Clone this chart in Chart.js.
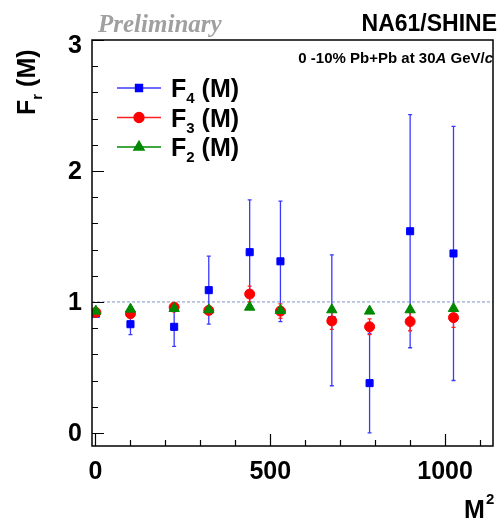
<!DOCTYPE html>
<html>
<head>
<meta charset="utf-8">
<script src="https://cdn.jsdelivr.net/npm/chart.js@4.4.0/dist/chart.umd.min.js"></script>
<style>
  html, body { margin: 0; padding: 0; background: #fff; }
  #wrap { width: 500px; height: 521px; }
</style>
</head>
<body>
<div id="wrap"><canvas id="chart" width="500" height="521"></canvas></div>
<script>
// data
const m2 = [1, 100, 225, 324, 441, 529, 676, 784, 900, 1024];
const f4 = [0.91, 0.83, 0.81, 1.09, 1.38, 1.31, 0.86, 0.38, 1.54, 1.37];
const f4Err = [0.02, 0.08, 0.15, 0.26, 0.40, 0.46, 0.50, 0.38, 0.89, 0.97];
const f3 = [0.92, 0.91, 0.96, 0.935, 1.06, 0.93, 0.855, 0.81, 0.85, 0.88];
const f3Err = [0.01, 0.02, 0.02, 0.03, 0.06, 0.055, 0.065, 0.06, 0.07, 0.075];
const f2 = [0.93, 0.945, 0.95, 0.94, 0.96, 0.935, 0.94, 0.93, 0.94, 0.95];
const f2Err = [0.005, 0.005, 0.005, 0.005, 0.005, 0.005, 0.005, 0.005, 0.005, 0.005];

const yMajor = [0, 1, 2, 3];
const xMajor = [0, 500, 1000];
const legendSub = ['4', '3', '2'];

const FONT = "'Liberation Sans', Arial, sans-serif";

function pts(ys) {
    return m2.map((x, i) => ({ x: x, y: ys[i] }));
}

// errors per dataset index
const errs = [f4Err, f3Err, f2Err];

// draw error bars under each dataset
const rootStyle = {
    id: 'rootStyle',
    beforeDatasetsDraw(chart) {
        const ctx = chart.ctx;
        const a = chart.chartArea;
        const y1 = chart.scales.y.getPixelForValue(1);
        ctx.save();
        ctx.strokeStyle = '#7f96c8';
        ctx.lineWidth = 1;
        ctx.setLineDash([3, 2]);
        ctx.beginPath();
        ctx.moveTo(a.left, y1);
        ctx.lineTo(a.right, y1);
        ctx.stroke();
        ctx.restore();
    },
    beforeDatasetDraw(chart, args) {
        const ctx = chart.ctx;
        const ds = chart.data.datasets[args.index];
        const e = errs[args.index];
        const xs = chart.scales.x, ys = chart.scales.y;
        ctx.save();
        ctx.strokeStyle = ds.errColor;
        ctx.lineWidth = 1.3;
        ds.data.forEach((p, i) => {
            const px = xs.getPixelForValue(p.x);
            const top = ys.getPixelForValue(p.y + e[i]);
            const bot = ys.getPixelForValue(p.y - e[i]);
            ctx.beginPath();
            ctx.moveTo(px, top); ctx.lineTo(px, bot);
            ctx.moveTo(px - 2, top); ctx.lineTo(px + 2, top);
            ctx.moveTo(px - 2, bot); ctx.lineTo(px + 2, bot);
            ctx.stroke();
        });
        ctx.restore();
    },
    afterDraw(chart) {
        const ctx = chart.ctx;
        const a = chart.chartArea;
        const xs = chart.scales.x, ys = chart.scales.y;
        ctx.save();

        // frame
        ctx.strokeStyle = '#000';
        ctx.lineWidth = 1.5;
        ctx.strokeRect(a.left, a.top, a.right - a.left, a.bottom - a.top);

        // ticks inside the frame
        ctx.lineWidth = 1.2;
        ctx.beginPath();
        for (let v = 0; v <= 3.001; v += 0.2) {
            const py = Math.round(ys.getPixelForValue(v)) + 0.5;
            const major = Math.abs(v - Math.round(v)) < 0.01;
            ctx.moveTo(a.left, py);
            ctx.lineTo(a.left + (major ? 12 : 6), py);
        }
        for (let v = 0; v <= 1100; v += 100) {
            const px = Math.round(xs.getPixelForValue(v)) + 0.5;
            const major = v % 500 === 0;
            ctx.moveTo(px, a.bottom);
            ctx.lineTo(px, a.bottom - (major ? 12 : 6));
        }
        ctx.stroke();

        // tick labels
        ctx.fillStyle = '#000';
        ctx.font = 'bold 25px ' + FONT;
        ctx.textAlign = 'right';
        ctx.textBaseline = 'middle';
        yMajor.forEach(v => {
            let py = ys.getPixelForValue(v);
            if (py < a.top + 5) py = a.top + 5;
            ctx.fillText(String(v), 82, py + 1);
        });
        ctx.textAlign = 'center';
        xMajor.forEach(v => {
            ctx.fillText(String(v), xs.getPixelForValue(v), 472);
        });

        // x title M^2
        ctx.textAlign = 'left';
        ctx.textBaseline = 'alphabetic';
        ctx.font = 'bold 25px ' + FONT;
        ctx.fillText('M', 464, 518);
        ctx.font = 'bold 15px ' + FONT;
        ctx.fillText('2', 486, 504);

        // y title F_r (M)
        ctx.save();
        ctx.translate(35, 115);
        ctx.rotate(-Math.PI / 2);
        ctx.font = 'bold 25px ' + FONT;
        ctx.fillText('F', 0, 0);
        let w = ctx.measureText('F').width;
        ctx.font = 'bold 15px ' + FONT;
        ctx.fillText('r', w, 7);
        w += ctx.measureText('r').width;
        ctx.font = 'bold 25px ' + FONT;
        ctx.fillText(' (M)', w, 0);
        ctx.restore();

        // Preliminary
        ctx.fillStyle = '#a0a0a0';
        ctx.font = 'italic bold 25px "Liberation Serif", "Times New Roman", serif';
        ctx.fillText('Preliminary', 98, 32);

        // NA61/SHINE
        ctx.fillStyle = '#000';
        ctx.textAlign = 'right';
        ctx.font = 'bold 23px ' + FONT;
        ctx.fillText('NA61/SHINE', 497, 31);

        // system label with italic A and c
        ctx.textAlign = 'left';
        const parts = [['0 -10% Pb+Pb at 30', false], ['A', true], [' GeV/', false], ['c', true]];
        let total = 0;
        parts.forEach(p => {
            ctx.font = (p[1] ? 'italic ' : '') + 'bold 15px ' + FONT;
            total += ctx.measureText(p[0]).width;
        });
        let x = 493 - total;
        parts.forEach(p => {
            ctx.font = (p[1] ? 'italic ' : '') + 'bold 15px ' + FONT;
            ctx.fillText(p[0], x, 63);
            x += ctx.measureText(p[0]).width;
        });

        // legend
        chart.data.datasets.forEach((ds, i) => {
            const ly = 88 + i * 29.5;
            ctx.strokeStyle = ds.errColor;
            ctx.lineWidth = 1.3;
            ctx.beginPath();
            ctx.moveTo(117, ly);
            ctx.lineTo(161, ly);
            ctx.stroke();
            ctx.fillStyle = ds.backgroundColor;
            ctx.strokeStyle = ds.borderColor;
            Chart.helpers.drawPoint(ctx, {
                pointStyle: ds.pointStyle, radius: ds.pointRadius,
                rotation: 0, borderWidth: 1
            }, 139, ly);
            ctx.fillStyle = '#000';
            ctx.font = 'bold 25px ' + FONT;
            ctx.fillText('F', 171, ly + 9);
            let lw = ctx.measureText('F').width;
            ctx.font = 'bold 15px ' + FONT;
            ctx.fillText(legendSub[i], 171 + lw, ly + 15);
            lw += ctx.measureText(legendSub[i]).width;
            ctx.font = 'bold 25px ' + FONT;
            ctx.fillText(' (M)', 171 + lw, ly + 9);
        });

        ctx.restore();
    }
};

const ctx = document.getElementById('chart').getContext('2d');
new Chart(ctx, {
    type: 'scatter',
    data: {
        datasets: [{
            label: 'F4 (M)',
            data: pts(f4),
            pointStyle: 'rect',
            pointRadius: 5,
            backgroundColor: '#0000ff',
            borderColor: '#0000ff',
            borderWidth: 1,
            errColor: '#3a3aff',
            order: 2
        }, {
            label: 'F3 (M)',
            data: pts(f3),
            pointStyle: 'circle',
            pointRadius: 5,
            backgroundColor: '#ff0000',
            borderColor: '#ff0000',
            borderWidth: 1,
            errColor: '#ff2020',
            order: 1
        }, {
            label: 'F2 (M)',
            data: pts(f2),
            pointStyle: 'triangle',
            pointRadius: 6,
            backgroundColor: '#008800',
            borderColor: '#008800',
            borderWidth: 1,
            errColor: '#008800',
            order: 0
        }]
    },
    options: {
        responsive: false,
        animation: false,
        layout: { padding: { left: 92, top: 40, right: 3, bottom: 75 } },
        plugins: { legend: { display: false }, tooltip: { enabled: false } },
        scales: {
            x: { type: 'linear', min: -10, max: 1137, display: false },
            y: { type: 'linear', min: -0.1, max: 3, display: false }
        }
    },
    plugins: [rootStyle]
});
</script>
</body>
</html>
